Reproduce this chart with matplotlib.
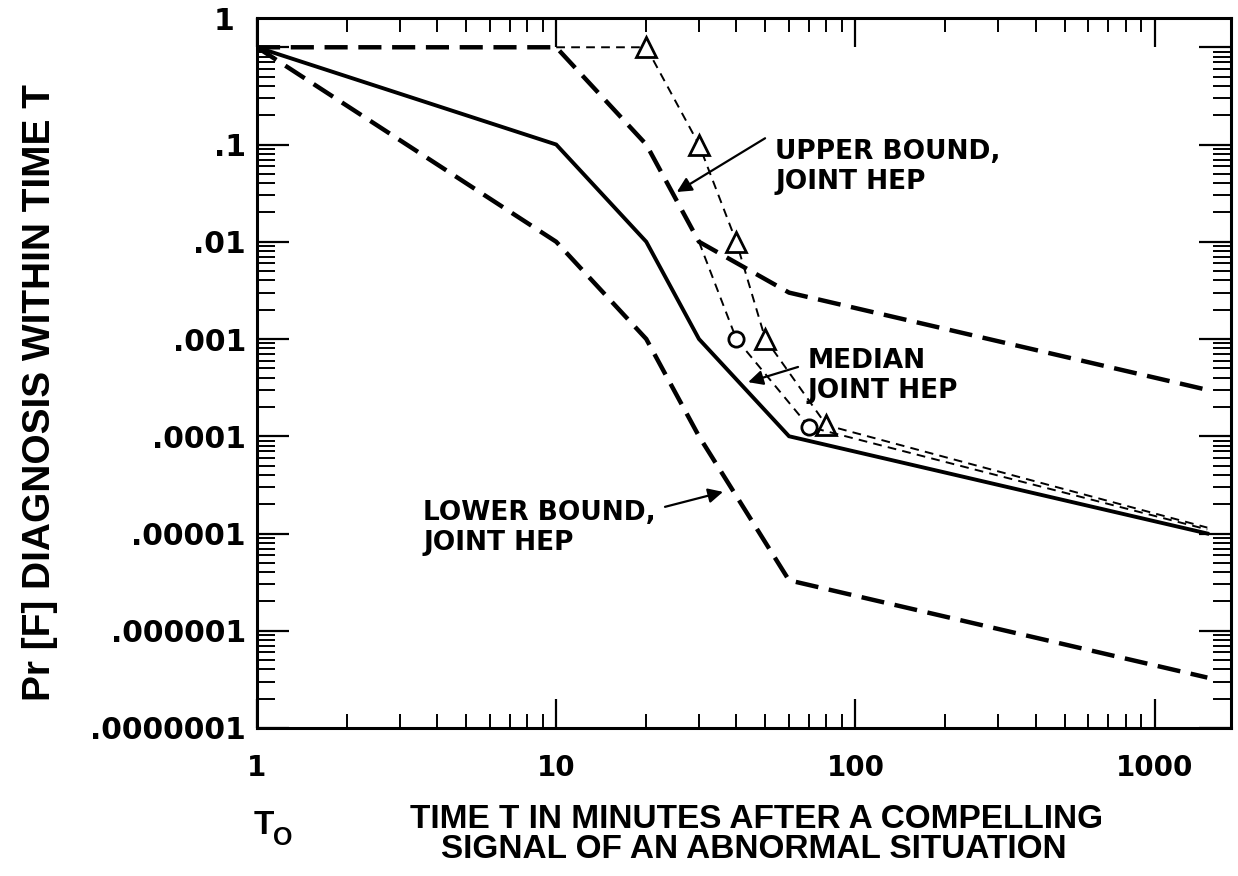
import matplotlib
matplotlib.use('Agg')
import matplotlib.pyplot as plt
from matplotlib.ticker import LogLocator, FixedLocator, NullFormatter

# 时间 (min) 与失败概率
t_nodes = [1, 10, 20, 30, 60, 1500]
p_median = [1.0, 0.1, 0.01, 0.001, 1e-4, 1e-5]
p_upper = [1.0, 1.0, 0.1, 0.01, 3e-3, 3e-4]
p_lower = [1.0, 0.01, 0.001, 1e-4, 3.3e-6, 3.3e-7]

# 两条细虚线 (三角 / 圆圈)
t_tri = [10, 20, 30, 40, 50, 80, 1500]
p_tri = [1.0, 1.0, 0.1, 0.01, 0.001, 1.3e-4, 1.15e-5]
tri_marks = [1, 2, 3, 4, 5]
t_circ = [30, 40, 70, 1500]
p_circ = [0.01, 0.001, 1.25e-4, 1.1e-5]
circ_marks = [1, 2]

x_ticks = [1, 10, 100, 1000]
x_ticklabels = ['1', '10', '100', '1000']
y_ticks = [1e-7, 1e-6, 1e-5, 1e-4, 1e-3, 1e-2, 1e-1, 1.0]
y_ticklabels = ['.0000001', '.000001', '.00001', '.0001', '.001', '.01', '.1', '']

W, H = 1238, 876
fig = plt.figure(figsize=(W / 100, H / 100), dpi=100)
ax = fig.add_axes([257 / W, 1 - 728 / H, 974 / W, 710 / H])

ax.set_xscale('log')
ax.set_yscale('log')
ax.set_xlim(1, 1800)
ax.set_ylim(1e-7, 2.0)

bound_kw = dict(color='black', lw=3.2, dashes=(5.2, 2.4), solid_capstyle='butt', dash_capstyle='butt')
ax.plot(t_nodes, p_upper, **bound_kw)
ax.plot(t_nodes, p_lower, **bound_kw)
ax.plot(t_nodes, p_median, color='black', lw=2.8, solid_joinstyle='miter')

thin_kw = dict(color='black', lw=1.4, dashes=(4.5, 3.2))
ax.plot(t_tri, p_tri, **thin_kw)
ax.plot([t_tri[i] for i in tri_marks], [p_tri[i] for i in tri_marks], ls='none',
        marker='^', ms=15, mfc='white', mec='black', mew=2.0)
ax.plot(t_circ, p_circ, **thin_kw)
ax.plot([t_circ[i] for i in circ_marks], [p_circ[i] for i in circ_marks], ls='none',
        marker='o', ms=11, mfc='white', mec='black', mew=2.0)

# 坐标轴刻度
for s in ax.spines.values():
    s.set_linewidth(2.2)
ax.xaxis.set_major_locator(FixedLocator(x_ticks))
ax.xaxis.set_minor_locator(LogLocator(base=10, subs=range(2, 10), numticks=20))
ax.yaxis.set_major_locator(FixedLocator(y_ticks))
ax.yaxis.set_minor_locator(LogLocator(base=10, subs=range(2, 10), numticks=20))
ax.xaxis.set_minor_formatter(NullFormatter())
ax.yaxis.set_minor_formatter(NullFormatter())
ax.set_xticklabels(x_ticklabels, fontfamily='DejaVu Sans', fontweight='bold', fontsize=20)
ax.set_yticklabels(y_ticklabels, fontfamily='DejaVu Sans', fontweight='bold', fontsize=21.5)
ax.tick_params(axis='x', which='major', direction='in', length=21, width=1.6, top=True, pad=19)
ax.tick_params(axis='x', which='minor', direction='in', length=10, width=1.4, top=True)
ax.tick_params(axis='y', which='major', direction='in', length=23, width=1.6, right=True, pad=8)
ax.tick_params(axis='y', which='minor', direction='in', length=13, width=1.4, right=True)

# “1” 标签放在左上角
fig.text(234 / W, 1 - 22 / H, '1', ha='right', va='center', fontfamily='DejaVu Sans',
         fontweight='bold', fontsize=21.5)

# 轴标题
title_kw = dict(fontfamily='Liberation Sans', fontweight='bold', fontsize=24)
fig.text(40 / W, 1 - 393 / H, 'Pr [F] DIAGNOSIS WITHIN TIME T', rotation=90, ha='center', va='center',
         fontfamily='Liberation Sans', fontweight='bold', fontsize=28)
fig.text(757 / W, 1 - 819 / H, 'TIME T IN MINUTES AFTER A COMPELLING', ha='center', va='center', **title_kw)
fig.text(754 / W, 1 - 850 / H, 'SIGNAL OF AN ABNORMAL SITUATION', ha='center', va='center', **title_kw)
fig.text(254 / W, 1 - 825 / H, 'T', ha='left', va='center', **title_kw)
fig.text(273 / W, 1 - 838 / H, 'O', ha='left', va='center', fontfamily='Liberation Sans',
         fontweight='bold', fontsize=18)

# 注释
arrow = dict(arrowstyle='-|>', lw=1.6, color='black', mutation_scale=22, shrinkA=0, shrinkB=0)
txt = dict(fontfamily='DejaVu Sans', fontweight='bold', fontsize=19, ha='left', va='center', linespacing=1.2)
ax.annotate('', xy=(25.3, 0.0325), xytext=(49.9, 0.116), arrowprops=arrow)
ax.text(53.9, 0.0585, 'UPPER BOUND,\nJOINT HEP', **txt)
ax.annotate('', xy=(43.8, 3.6e-4), xytext=(64.3, 5.16e-4), arrowprops=arrow)
ax.text(69, 4.17e-4, 'MEDIAN\nJOINT HEP', **txt)
ax.annotate('', xy=(36.1, 2.68e-5), xytext=(23.1, 1.88e-5), arrowprops=arrow)
ax.text(3.59, 1.15e-5, 'LOWER BOUND,\nJOINT HEP', **txt)

fig.savefig('out.png', dpi=100)
